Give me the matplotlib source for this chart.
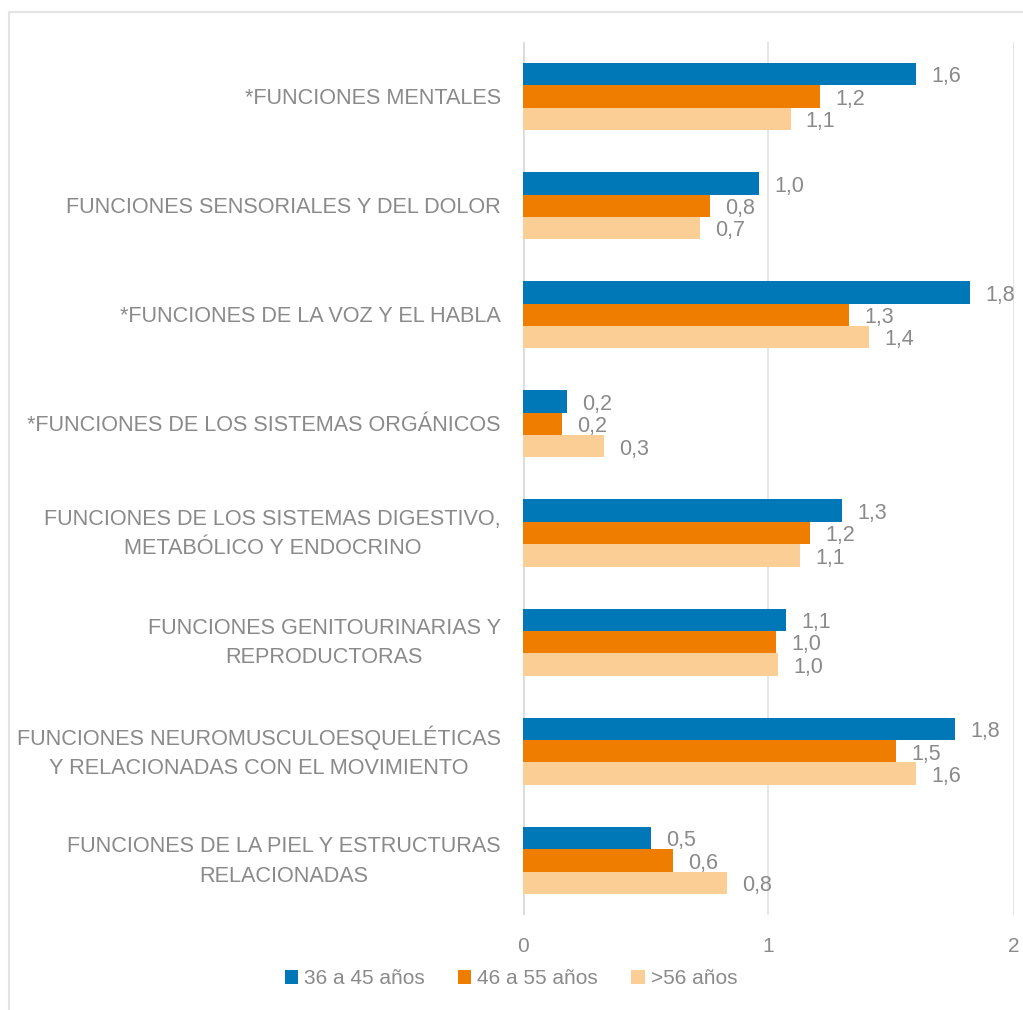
import matplotlib
matplotlib.use("Agg")
import matplotlib.pyplot as plt
from matplotlib.patches import Rectangle
from matplotlib.transforms import ScaledTranslation
import numpy as np

plt.rcParams['font.family'] = ['Liberation Sans', 'DejaVu Sans']

categories = [
    "*FUNCIONES MENTALES",
    "FUNCIONES SENSORIALES Y DEL DOLOR",
    "*FUNCIONES DE LA VOZ Y EL HABLA",
    "*FUNCIONES DE LOS SISTEMAS ORGÁNICOS",
    "FUNCIONES DE LOS SISTEMAS DIGESTIVO,\nMETABÓLICO Y ENDOCRINO",
    "FUNCIONES GENITOURINARIAS Y\nREPRODUCTORAS",
    "FUNCIONES NEUROMUSCULOESQUELÉTICAS\nY RELACIONADAS CON EL MOVIMIENTO",
    "FUNCIONES DE LA PIEL Y ESTRUCTURAS\nRELACIONADAS",
]
series_names = ["36 a 45 años", "46 a 55 años", ">56 años"]
edad_36_45 = [1.60, 0.96, 1.82, 0.18, 1.30, 1.07, 1.76, 0.52]
edad_46_55 = [1.21, 0.76, 1.33, 0.16, 1.17, 1.03, 1.52, 0.61]
edad_56_mas = [1.09, 0.72, 1.41, 0.33, 1.13, 1.04, 1.60, 0.83]
x_ticks = [0, 1, 2]

colors = ["#0077B6", "#EE7D00", "#FACE95"]
gray = "#8A8A8A"

fig = plt.figure(figsize=(10.23, 10.10), dpi=100)
ax = fig.add_axes([0.5112, 0.0941, 0.4800, 0.8643])

# light frame around the chart area
fig.patches.append(Rectangle((9 / 1023, -0.05), 1.2, 1 - 12 / 1010 + 0.05,
                             transform=fig.transFigure, fill=False,
                             edgecolor="#E3E3E3", linewidth=1.5, zorder=0))

y = np.arange(len(categories))
h = 0.205
all_series = [edad_36_45, edad_46_55, edad_56_mas]
for i, (vals, name, col) in enumerate(zip(all_series, series_names, colors)):
    pos = y + (i - 1) * h
    ax.barh(pos, vals, height=h, color=col, label=name, zorder=3)
    for p, v in zip(pos, vals):
        ax.annotate(f"{v:.1f}".replace(".", ","), xy=(v, p), xytext=(11, -2),
                    textcoords="offset points", ha="left", va="center",
                    fontsize=15.5, color=gray, zorder=4)

ax.set_ylim(len(categories) - 0.5, -0.5)
ax.set_xlim(0, 2)
ax.set_xticks(x_ticks)
ax.set_xticklabels([str(t) for t in x_ticks])
ax.set_yticks(y)
ax.set_yticklabels(categories, multialignment="center", linespacing=1.55)
ax.tick_params(axis="y", length=0, pad=16, labelsize=15.6, labelcolor=gray)
ax.tick_params(axis="x", length=0, pad=16, labelsize=15, labelcolor=gray)

# nudge wrapped category labels up so both lines sit around the group centre
for lbl in ax.get_yticklabels():
    dy = 6 if "\n" in lbl.get_text() else 1
    lbl.set_transform(lbl.get_transform() +
                      ScaledTranslation(0, dy / 100, fig.dpi_scale_trans))

for s in ax.spines.values():
    s.set_visible(False)
ax.xaxis.grid(True, color="#E1E1E1", linewidth=1.2, zorder=0)
ax.axvline(0, color="#DADADA", linewidth=2, zorder=2)

fig.legend(loc="center", bbox_to_anchor=(0.4995, 0.031), ncol=3, frameon=False,
           fontsize=15, labelcolor=gray, handlelength=0.63, handleheight=0.63,
           handletextpad=0.29, columnspacing=1.6)

fig.savefig("out.png", dpi=100, facecolor="white")
